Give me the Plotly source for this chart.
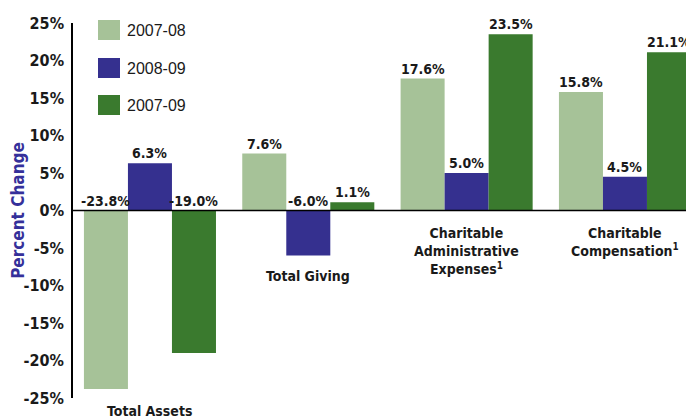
import plotly.graph_objects as go

categories = ["Total Assets", "Total Giving", "Charitable Administrative Expenses", "Charitable Compensation"]
category_labels = ["Total Assets", "Total Giving", "Charitable<br>Administrative<br>Expenses<sup>1</sup>", "Charitable<br>Compensation<sup>1</sup>"]
label_y = [-26.7, -8.7, -5.4, -4.2]
series_names = ["2007-08", "2008-09", "2007-09"]
values_0708 = [-23.8, 7.6, 17.6, 15.8]
values_0809 = [6.3, -6.0, 5.0, 4.5]
values_0709 = [-19.0, 1.1, 23.5, 21.1]
colors = ["#A6C298", "#35308F", "#3A7A2E"]
tick_vals = [25, 20, 15, 10, 5, 0, -5, -10, -15, -20, -25]
tick_text = [f"{v}%" for v in tick_vals]
y_range = [-25, 25]

FONT = "DejaVu Sans Condensed, Liberation Sans Narrow, Arial Narrow, sans-serif"
series = [values_0708, values_0809, values_0709]

fig = go.Figure()
xs = list(range(len(categories)))
for name, vals, col in zip(series_names, series, colors):
    fig.add_trace(go.Bar(x=xs, y=vals, name=name, marker=dict(color=col, line=dict(width=0)),
                         showlegend=False))

annotations = []
bargap = 0.166
bw = (1 - bargap) / 3
for si, vals in enumerate(series):
    off = (si - 1) * bw
    for ci, v in enumerate(vals):
        annotations.append(dict(x=ci + off, y=max(v, 0), xref="x", yref="y", text=f"<b>{v:.1f}%</b>",
                                showarrow=False, yanchor="bottom", yshift=0,
                                font=dict(family=FONT, size=14, color="#1a1a1a")))
for ci, (lab, ly) in enumerate(zip(category_labels, label_y)):
    py = (ly - y_range[0]) / (y_range[1] - y_range[0])
    annotations.append(dict(x=ci, y=py, xref="x", yref="paper", text=f"<b>{lab}</b>", showarrow=False,
                            yanchor="middle", font=dict(family=FONT, size=14, color="#1a1a1a")))

# manual legend (plot area: 621 x 375 px)
shapes = []
leg_y = [30, 68, 105]
for name, col, yy in zip(series_names, colors, leg_y):
    shapes.append(dict(type="rect", xref="paper", yref="paper",
                       x0=(98 - 73) / 621, x1=(120 - 73) / 621,
                       y0=(398 - yy - 10) / 375, y1=(398 - yy + 10) / 375,
                       fillcolor=col, line=dict(width=0)))
    annotations.append(dict(x=(125 - 73) / 621, y=(398 - yy) / 375, xref="paper", yref="paper",
                            text=name, showarrow=False, xanchor="left", yanchor="middle",
                            font=dict(family="Liberation Sans, Arial, sans-serif", size=16, color="#1a1a1a")))

# zero line
shapes.append(dict(type="line", xref="paper", yref="y", x0=0, x1=1, y0=0, y1=0,
                   line=dict(color="black", width=1.5)))

fig.update_layout(
    width=686, height=410,
    margin=dict(l=65, r=0, t=15, b=20, autoexpand=False),
    paper_bgcolor="white", plot_bgcolor="white",
    barmode="group", bargap=bargap, bargroupgap=0,
    xaxis=dict(range=[-0.486, 3.436], showticklabels=False, showgrid=False, zeroline=False,
               showline=False, ticks="", automargin=False),
    yaxis=dict(range=y_range, tickvals=tick_vals, ticktext=tick_text, showgrid=False,
               zeroline=False, showline=True, linecolor="black", linewidth=1.5, ticks="",
               automargin=False, ticklabelstandoff=4,
               tickfont=dict(family=FONT, size=16, color="#1a1a1a", weight=600),
               title=dict(text="Percent Change", standoff=8,
                          font=dict(family=FONT, size=17, color="#35309A", weight=600))),
    annotations=annotations, shapes=shapes,
)

fig.write_html("out.html")
